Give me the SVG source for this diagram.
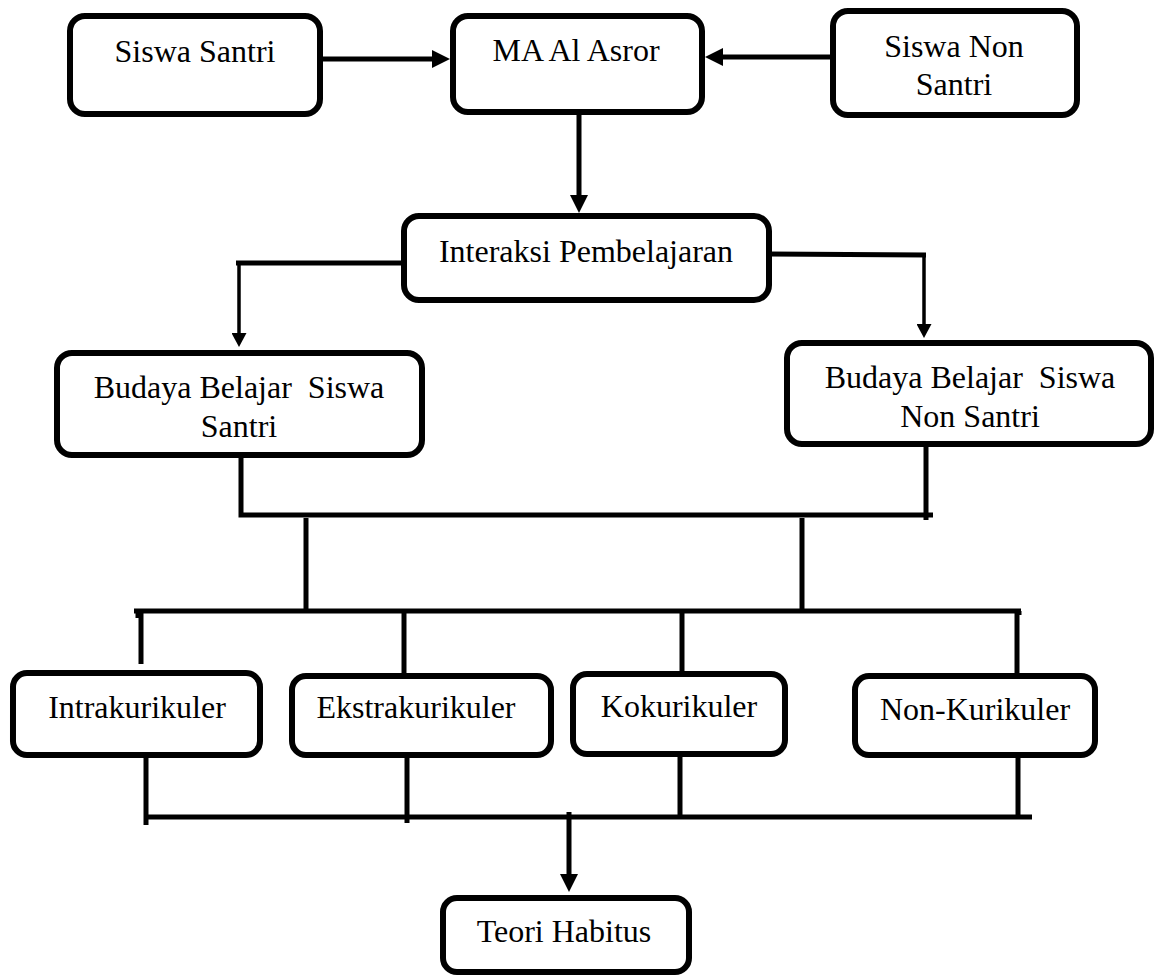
<svg xmlns="http://www.w3.org/2000/svg" width="1166" height="977" viewBox="0 0 1166 977">
<style>
.box{fill:#fff;stroke:#000;stroke-width:6}
.t{font-family:"Liberation Serif","Times New Roman",serif;font-size:32px;fill:#000;text-anchor:middle}
.c{fill:none;stroke:#000;stroke-width:5;stroke-linecap:butt}
.thin{fill:none;stroke:#000;stroke-width:3.5}
</style>
<defs>
<marker id="ah" viewBox="0 0 18 18" markerWidth="18" markerHeight="18" refX="9" refY="9" orient="auto" markerUnits="userSpaceOnUse">
<path d="M0,0 L18,9 L0,18 z" fill="#000"/>
</marker>
<marker id="ahs" viewBox="0 0 14 15" markerWidth="14" markerHeight="15" refX="7" refY="7.5" orient="auto" markerUnits="userSpaceOnUse">
<path d="M0,0 L14,7.5 L0,15 z" fill="#000"/>
</marker>
</defs>
<rect width="1166" height="977" fill="#fff"/>
<g id="connectors">
<line class="c" x1="323" y1="59" x2="441" y2="59" marker-end="url(#ah)"/>
<line class="c" x1="830" y1="57" x2="714" y2="57" marker-end="url(#ah)"/>
<line class="c" x1="579" y1="115" x2="579" y2="204" marker-end="url(#ah)"/>
<polyline class="c" points="404,263 236,263"/>
<line class="thin" x1="239" y1="261" x2="239" y2="340" marker-end="url(#ahs)"/>
<polyline class="c" points="769,254 926,255"/>
<line class="thin" x1="924" y1="253" x2="924" y2="331" marker-end="url(#ahs)"/>
<polyline class="c" points="241,458 241,515 933,515"/>
<line class="c" x1="926" y1="447" x2="926" y2="520"/>
<line class="c" x1="306" y1="518" x2="306" y2="609"/>
<line class="c" x1="802" y1="518" x2="802" y2="609"/>
<line class="c" x1="134" y1="611" x2="1021" y2="611"/>
<line class="c" x1="138" y1="611" x2="138" y2="618"/>
<line class="c" x1="1019" y1="611" x2="1019" y2="615"/>
<line class="c" x1="141" y1="611" x2="141" y2="664"/>
<line class="c" x1="404" y1="611" x2="404" y2="673"/>
<line class="c" x1="682" y1="611" x2="682" y2="671"/>
<line class="c" x1="1017" y1="611" x2="1017" y2="673"/>
<line class="c" x1="146" y1="757" x2="146" y2="825"/>
<line class="c" x1="407" y1="758" x2="407" y2="823"/>
<line class="c" x1="680" y1="757" x2="680" y2="817"/>
<line class="c" x1="1018" y1="758" x2="1018" y2="817"/>
<line class="c" x1="144" y1="817" x2="1032" y2="817"/>
<line class="c" x1="569" y1="812" x2="569" y2="883" marker-end="url(#ah)"/>
</g>
<g id="siswa-santri">
<rect class="box" x="70" y="16" width="250" height="98" rx="15"/>
<text class="t" x="195" y="62">Siswa Santri</text>
</g>
<g id="ma-al-asror">
<rect class="box" x="453" y="16" width="249" height="96" rx="15"/>
<text class="t" x="576" y="61">MA Al Asror</text>
</g>
<g id="siswa-non-santri">
<rect class="box" x="833" y="11" width="244" height="104" rx="15"/>
<text class="t" x="954" y="57">Siswa Non</text>
<text class="t" x="954" y="95">Santri</text>
</g>
<g id="interaksi">
<rect class="box" x="404" y="216" width="365" height="84" rx="15"/>
<text class="t" x="586" y="262">Interaksi Pembelajaran</text>
</g>
<g id="budaya-santri">
<rect class="box" x="57" y="353" width="365" height="102" rx="15"/>
<text class="t" x="239" y="398" xml:space="preserve">Budaya Belajar  Siswa</text>
<text class="t" x="239" y="437">Santri</text>
</g>
<g id="budaya-non-santri">
<rect class="box" x="787" y="343" width="364" height="101" rx="15"/>
<text class="t" x="970" y="388" xml:space="preserve">Budaya Belajar  Siswa</text>
<text class="t" x="970" y="427">Non Santri</text>
</g>
<g id="intrakurikuler">
<rect class="box" x="13" y="673" width="247" height="82" rx="14"/>
<text class="t" x="137" y="718">Intrakurikuler</text>
</g>
<g id="ekstrakurikuler">
<rect class="box" x="292" y="676" width="259" height="79" rx="14"/>
<text class="t" x="416" y="718">Ekstrakurikuler</text>
</g>
<g id="kokurikuler">
<rect class="box" x="573" y="674" width="212" height="80" rx="14"/>
<text class="t" x="679" y="717">Kokurikuler</text>
</g>
<g id="non-kurikuler">
<rect class="box" x="855" y="676" width="240" height="79" rx="14"/>
<text class="t" x="975" y="720">Non-Kurikuler</text>
</g>
<g id="teori-habitus">
<rect class="box" x="443" y="898" width="246" height="74" rx="14"/>
<text class="t" x="564" y="942">Teori Habitus</text>
</g>
</svg>
